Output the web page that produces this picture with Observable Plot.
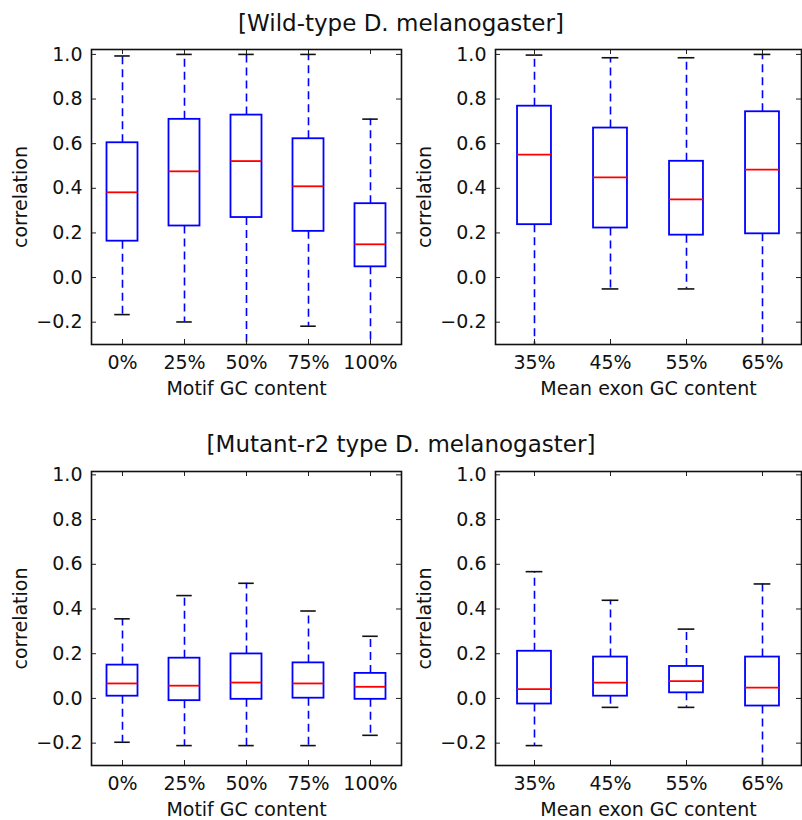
<!DOCTYPE html>
<html>
<head>
<meta charset="utf-8">
<script src="https://cdn.jsdelivr.net/npm/d3@7"></script>
<script src="https://cdn.jsdelivr.net/npm/@observablehq/plot@0.6"></script>
<style>
  body { margin: 0; background: #fff; }
  #wrap { position: relative; width: 802px; height: 820px; overflow: hidden; font-family: "DejaVu Sans", sans-serif; }
  .title { position: absolute; left: 0; width: 802px; text-align: center; font-size: 23px; line-height: 27px; color: #111; white-space: nowrap; }
  .panel { position: absolute; }
</style>
</head>
<body>
<div id="wrap">
  <div class="title" id="t1" style="top:10px">[Wild-type D. melanogaster]</div>
  <div class="title" id="t2" style="top:431px">[Mutant-r2 type D. melanogaster]</div>
</div>
<script>
// ---- data ----
const motifCats = ["0%", "25%", "50%", "75%", "100%"];
const exonCats = ["35%", "45%", "55%", "65%"];
const yTicks = [-0.2, 0.0, 0.2, 0.4, 0.6, 0.8, 1.0];

// Wild-type, motif GC content
const wtMotifLo  = [-0.166, -0.199, -0.34, -0.218, -0.34];
const wtMotifQ1  = [0.163, 0.231, 0.269, 0.207, 0.048];
const wtMotifMed = [0.382, 0.476, 0.522, 0.409, 0.149];
const wtMotifQ3  = [0.604, 0.709, 0.728, 0.622, 0.331];
const wtMotifHi  = [0.993, 1.0, 1.0, 1.0, 0.710];

// Wild-type, mean exon GC content
const wtExonLo  = [-0.34, -0.051, -0.051, -0.34];
const wtExonQ1  = [0.237, 0.222, 0.190, 0.196];
const wtExonMed = [0.551, 0.449, 0.350, 0.484];
const wtExonQ3  = [0.768, 0.670, 0.521, 0.743];
const wtExonHi  = [0.997, 0.985, 0.985, 1.0];

// Mutant-r2, motif GC content
const mutMotifLo  = [-0.196, -0.211, -0.211, -0.211, -0.165];
const mutMotifQ1  = [0.010, -0.010, -0.004, 0.001, -0.004];
const mutMotifMed = [0.067, 0.057, 0.071, 0.067, 0.052];
const mutMotifQ3  = [0.149, 0.180, 0.199, 0.159, 0.112];
const mutMotifHi  = [0.356, 0.460, 0.515, 0.391, 0.278];

// Mutant-r2, mean exon GC content
const mutExonLo  = [-0.211, -0.040, -0.040, -0.34];
const mutExonQ1  = [-0.025, 0.010, 0.025, -0.034];
const mutExonMed = [0.042, 0.071, 0.077, 0.048];
const mutExonQ3  = [0.211, 0.185, 0.143, 0.185];
const mutExonHi  = [0.567, 0.439, 0.310, 0.512];

const xLabelMotif = "Motif GC content";
const xLabelExon = "Mean exon GC content";
const yLabel = "correlation";

function rows(cats, lo, q1, med, q3, hi) {
  return cats.map((c, i) => ({cat: c, lo: lo[i], q1: q1[i], med: med[i], q3: q3[i], hi: hi[i]}));
}

const fmt = d => d.toFixed(1).replace("-", "\u2212");

function panel({cats, data, xLabel, left, top, width, height, mL, mR, mT, mB, yTop, boxFrac, capFrac}) {
  const plotW = width - mL - mR;
  const plotH = height - mT - mB;
  const band = plotW / cats.length;
  const boxInset = band * (1 - boxFrac) / 2;
  const capInset = band * (1 - capFrac) / 2;
  const blue = "#0000ff";
  const chart = Plot.plot({
    width, height,
    marginLeft: mL, marginRight: mR, marginTop: mT, marginBottom: mB,
    style: {fontFamily: "DejaVu Sans, sans-serif", fontSize: "19px", color: "#111", background: "transparent", overflow: "visible"},
    x: {type: "band", domain: cats, padding: 0, align: 0.5},
    y: {domain: [-0.3, yTop]},
    marks: [
      // whiskers
      Plot.ruleX(data, {x: "cat", y1: "q3", y2: "hi", stroke: blue, strokeWidth: 1.6, strokeDasharray: "8,5", clip: true}),
      Plot.ruleX(data, {x: "cat", y1: "q1", y2: "lo", stroke: blue, strokeWidth: 1.6, strokeDasharray: "8,5", clip: true}),
      // caps
      Plot.tickY(data, {x: "cat", y: "hi", stroke: "#111", strokeWidth: 1.6, insetLeft: capInset, insetRight: capInset, clip: true}),
      Plot.tickY(data, {x: "cat", y: "lo", stroke: "#111", strokeWidth: 1.6, insetLeft: capInset, insetRight: capInset, clip: true}),
      // boxes
      Plot.barY(data, {x: "cat", y1: "q1", y2: "q3", fill: "white", stroke: blue, strokeWidth: 1.8, insetLeft: boxInset, insetRight: boxInset}),
      // medians
      Plot.tickY(data, {x: "cat", y: "med", stroke: "#ff0000", strokeWidth: 1.8, insetLeft: boxInset, insetRight: boxInset}),
      // inward ticks
      Plot.tickY(yTicks, {y: d => d, insetRight: plotW - 5, stroke: "#222", strokeWidth: 1}),
      Plot.tickY(yTicks, {y: d => d, insetLeft: plotW - 5, stroke: "#222", strokeWidth: 1}),
      Plot.tickX(cats, {x: d => d, insetTop: plotH - 5, stroke: "#222", strokeWidth: 1}),
      Plot.tickX(cats, {x: d => d, insetBottom: plotH - 5, stroke: "#222", strokeWidth: 1}),
      // axes labels
      Plot.axisY({ticks: yTicks, tickSize: 0, tickPadding: 9, tickFormat: fmt, label: yLabel, labelAnchor: "center", labelArrow: "none", labelOffset: 78}),
      Plot.axisX({tickSize: 0, tickPadding: 11, label: xLabel, labelAnchor: "center", labelArrow: "none", labelOffset: 50}),
      Plot.frame({stroke: "#111", strokeWidth: 1.6})
    ]
  });
  const div = document.createElement("div");
  div.className = "panel";
  div.style.left = left + "px";
  div.style.top = top + "px";
  div.appendChild(chart);
  document.getElementById("wrap").appendChild(div);
}

panel({cats: motifCats, data: rows(motifCats, wtMotifLo, wtMotifQ1, wtMotifMed, wtMotifQ3, wtMotifHi),
  xLabel: xLabelMotif, left: 0, top: 30, width: 410, height: 380, mL: 91, mR: 9, mT: 19, mB: 66, yTop: 1.022, boxFrac: 0.5, capFrac: 0.25});
panel({cats: exonCats, data: rows(exonCats, wtExonLo, wtExonQ1, wtExonMed, wtExonQ3, wtExonHi),
  xLabel: xLabelExon, left: 400, top: 30, width: 402, height: 380, mL: 95, mR: 1, mT: 19, mB: 66, yTop: 1.022, boxFrac: 0.45, capFrac: 0.225});
panel({cats: motifCats, data: rows(motifCats, mutMotifLo, mutMotifQ1, mutMotifMed, mutMotifQ3, mutMotifHi),
  xLabel: xLabelMotif, left: 0, top: 452, width: 410, height: 368, mL: 91, mR: 9, mT: 19, mB: 55, yTop: 1.015, boxFrac: 0.5, capFrac: 0.25});
panel({cats: exonCats, data: rows(exonCats, mutExonLo, mutExonQ1, mutExonMed, mutExonQ3, mutExonHi),
  xLabel: xLabelExon, left: 400, top: 452, width: 402, height: 368, mL: 95, mR: 1, mT: 19, mB: 55, yTop: 1.015, boxFrac: 0.45, capFrac: 0.225});
</script>
</body>
</html>
